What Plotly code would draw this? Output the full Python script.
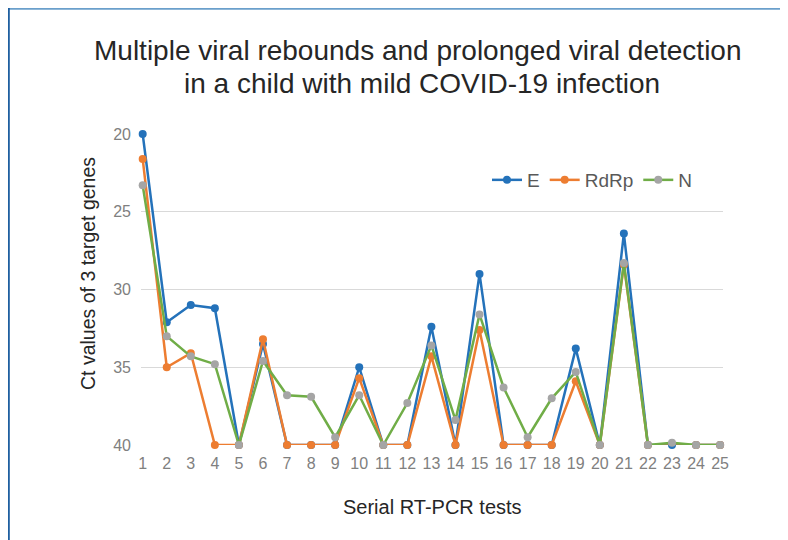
import plotly.graph_objects as go

tests = list(range(1, 26))
tick_labels = [str(i) for i in tests]
E = [20.0, 32.1, 31.0, 31.2, 40, 33.5, 40, 40, 40, 35.0, 40, 40, 32.4, 40, 29.0, 40, 40, 40, 33.8, 40, 26.4, 40, 40, 40, 40]
RdRp = [21.6, 35.0, 34.1, 40, 40, 33.2, 40, 40, 40, 35.7, 40, 40, 34.3, 40, 32.6, 40, 40, 40, 35.9, 40, 28.4, 40, 40.05, 40, 40]
N = [23.3, 33.0, 34.3, 34.8, 40, 34.6, 36.8, 36.9, 39.5, 36.8, 40, 37.3, 33.6, 38.4, 31.6, 36.3, 39.5, 37.0, 35.3, 40, 28.3, 40, 39.85, 40, 40]

series = [
    ("E", E, "#2472BA", "#2472BA"),
    ("RdRp", RdRp, "#ED7D31", "#ED7D31"),
    ("N", N, "#70AD47", "#A5A5A5"),
]

fig = go.Figure()
for name, vals, lc, mc in series:
    fig.add_trace(go.Scatter(
        x=tests, y=vals, name=name, mode="lines+markers",
        line=dict(color=lc, width=2.5),
        marker=dict(color=mc, size=8),
        cliponaxis=False,
    ))

OFF = 8  # page body margin
W, H = 788, 540
L, T = 141 - OFF, 134 - OFF
R = W - (723 - OFF)
B = H - (445 - OFF)
pw, ph = W - L - R, H - T - B


def px(sx):
    return (sx - OFF - L) / pw


def py(sy):
    return (H - B - (sy - OFF)) / ph


title_font = dict(family="Liberation Sans, Arial, sans-serif", size=28, color="#262626")
annotations = [
    dict(text="Multiple viral rebounds and prolonged viral detection", x=px(418), y=py(50),
         xref="paper", yref="paper", xanchor="center", yanchor="middle", showarrow=False, font=title_font),
    dict(text="in a child with mild COVID-19 infection", x=px(422), y=py(83),
         xref="paper", yref="paper", xanchor="center", yanchor="middle", showarrow=False, font=title_font),
    dict(text="Serial RT-PCR tests", x=px(432), y=py(507),
         xref="paper", yref="paper", xanchor="center", yanchor="middle", showarrow=False,
         font=dict(size=20, color="#262626")),
    dict(text="Ct values of 3 target genes", x=px(88), y=py(274), textangle=-90,
         xref="paper", yref="paper", xanchor="center", yanchor="middle", showarrow=False,
         font=dict(size=19.5, color="#262626")),
]

fig.update_layout(
    width=W, height=H,
    margin=dict(l=L, r=R, t=T, b=B, pad=0),
    paper_bgcolor="white", plot_bgcolor="white",
    font=dict(family="Liberation Sans, Arial, sans-serif", color="#595959"),
    xaxis=dict(
        range=[0.93, 25.12], tickmode="array", tickvals=tests, ticktext=tick_labels,
        showgrid=False, zeroline=False, showline=False, ticks="",
        tickfont=dict(size=16, color="#808080"), ticklabelstandoff=7,
    ),
    yaxis=dict(
        range=[40, 20], tickvals=[20, 25, 30, 35, 40],
        showgrid=True, gridcolor="#D9D9D9", gridwidth=1, zeroline=False, showline=False, ticks="",
        tickfont=dict(size=16, color="#808080"), ticklabelstandoff=9,
    ),
    legend=dict(
        orientation="h", x=px(487), xanchor="left", y=py(180), yanchor="middle",
        font=dict(size=19, color="#595959"), bgcolor="rgba(0,0,0,0)",
        itemwidth=30, tracegroupgap=0,
    ),
    showlegend=True,
    annotations=annotations,
    shapes=[
        dict(type="line", xref="paper", yref="paper", x0=px(8), x1=px(W + 20), y0=py(OFF + 0.8), y1=py(OFF + 0.8),
             line=dict(color="#6A9FCB", width=2)),
        dict(type="line", xref="paper", yref="paper", x0=px(OFF + 0.8), x1=px(OFF + 0.8), y0=py(OFF), y1=py(H + 20),
             line=dict(color="#1F5FA0", width=2)),
    ],
)

fig.write_html("out.html")
